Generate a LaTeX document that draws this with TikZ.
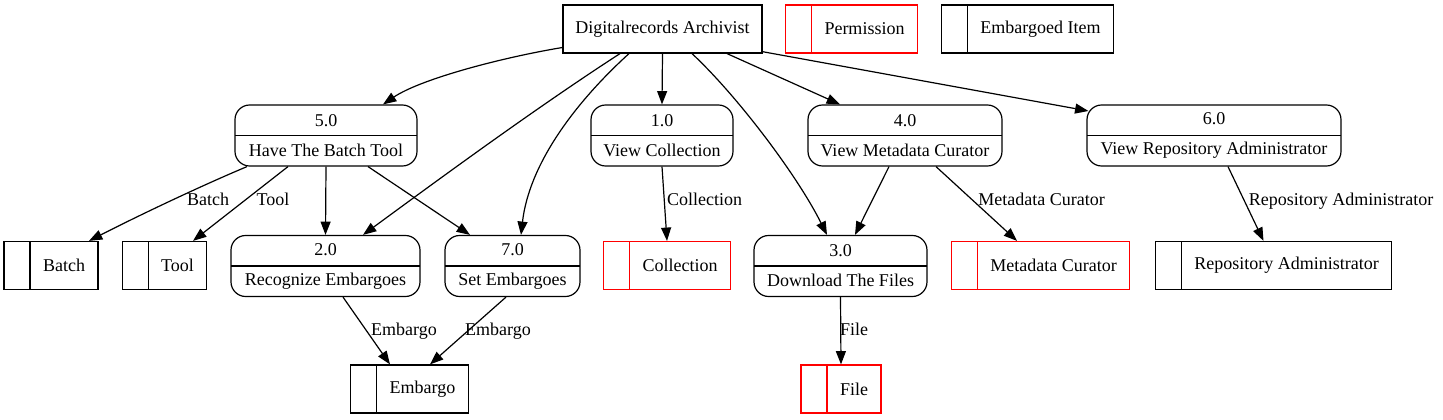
\documentclass[tikz,border=0pt]{standalone}
\usepackage{fontspec}
\setmainfont{Liberation Serif}
\usetikzlibrary{arrows.meta, calc}
\definecolor{storered}{RGB}{255,0,0}

\begin{document}
\begin{tikzpicture}[x=0.75pt, y=-0.75pt]
	\tikzset{
		process/.style={%
			draw,
			line width=0.9pt,
			rounded corners=11pt,
			align=center,
			inner sep=0pt,
			minimum height=45.75pt,
			font=\fontsize{13.5}{22.5}\selectfont,
			path picture={\draw[line width=0.9pt] (path picture bounding box.west) -- (path picture bounding box.east);}},
		store/.style={%
			draw=#1,
			line width=0.9pt,
			inner xsep=9.75pt,
			minimum height=36pt,
			font=\fontsize{13.5}{16}\selectfont,
			execute at begin node={\hspace*{19.5pt}},
			path picture={\draw[draw=#1, line width=0.9pt] ([xshift=19.5pt]path picture bounding box.north west) -- ([xshift=19.5pt]path picture bounding box.south west);}},
		store/.default=black,
		entity/.style={%
			draw,
			line width=0.9pt,
			minimum height=36pt,
			font=\fontsize{13.5}{16}\selectfont}
	}

	\tikzstyle{flow_style} = [draw=black, line width=0.9pt, -{Triangle[length=10pt, width=7.5pt]}]
	\tikzstyle{tag_style} = [font=\fontsize{13.5}{16}\selectfont, inner sep=0pt, text height=9.5pt, text depth=3pt]

	\useasboundingbox (0,0) rectangle (1443,420);

	% top row
	\node[entity, minimum width=149.25pt] (arch) at (662.5,29) {Digitalrecords Archivist};
	\node[store=storered] (perm) at (851.5,29) {Permission};
	\node[store] (item) at (1027.5,29) {Embargoed Item};

	% processes
	\node[process, minimum width=136.5pt] (p5) at (326,135.5) {5.0\\Have The Batch Tool};
	\node[process, minimum width=106.5pt] (p1) at (662,135.5) {1.0\\View Collection};
	\node[process, minimum width=145.5pt] (p4) at (905,135.5) {4.0\\View Metadata Curator};
	\node[process, minimum width=190.5pt] (p6) at (1214,135.5) {6.0\\View Repository Administrator};
	\node[process, minimum width=141.75pt] (p2) at (325.5,266) {2.0\\Recognize Embargoes};
	\node[process, minimum width=101.25pt] (p7) at (512.5,266) {7.0\\Set Embargoes};
	\node[process, minimum width=129.75pt] (p3) at (840.5,266) {3.0\\Download The Files};

	% data stores
	\node[store] (batch) at (51,265.5) {Batch};
	\node[store] (tool) at (164.5,265.5) {Tool};
	\node[store=storered] (coll) at (667,265.5) {Collection};
	\node[store=storered] (meta) at (1040.5,265.5) {Metadata Curator};
	\node[store] (repo) at (1273.5,265.5) {Repository Administrator};
	\node[store] (embargo) at (409.5,389) {Embargo};
	\node[store=storered] (file) at (841,389) {File};

	% flows from the archivist
	\draw[flow_style] ($(arch.west)+(0,18.5)$) .. controls +(-63,10.5) and +(37,-25) .. ($(p5.north)+(57,0)$);
	\draw[flow_style] ($(arch.south)+(-42.5,0)$) .. controls +(-85,55) and +(75,-55) .. ($(p2.north)+(37.5,0)$);
	\draw[flow_style] ($(arch.south)+(-33.5,0)$) .. controls +(-55,50) and +(8,-70) .. ($(p7.north)+(8.5,0)$);
	\draw[flow_style] (arch.south) -- (p1.north);
	\draw[flow_style] ($(arch.south)+(29.5,0)$) .. controls +(45,42) and +(-30,-60) .. ($(p3.north)+(-13.5,0)$);
	\draw[flow_style] ($(arch.south)+(64.5,0)$) -- ($(p4.north)+(-65,0)$);
	\draw[flow_style] ($(arch.east)+(0,22.7)$) -- ($(p6.west)+(2,-24.5)$);

	% flows out of the processes
	\draw[flow_style] ($(p5.south)+(-79,0)$) .. controls +(-50,21) and +(45,-23) .. ($(batch.north)+(38,0)$);
	\draw[flow_style] ($(p5.south)+(-38,0)$) -- ($(tool.north)+(28.5,0)$);
	\draw[flow_style] (p5.south) -- (p2.north);
	\draw[flow_style] ($(p5.south)+(42,0)$) -- ($(p7.north)+(-42.5,0)$);
	\draw[flow_style] (p1.south) -- (coll.north);
	\draw[flow_style] ($(p4.south)+(-16,0)$) -- ($(p3.north)+(14.5,0)$);
	\draw[flow_style] ($(p4.south)+(31,0)$) -- ($(meta.north)+(-23.5,0)$);
	\draw[flow_style] ($(p6.south)+(14,0)$) -- ($(repo.north)+(-10,0)$);
	\draw[flow_style] ($(p2.south)+(17.5,0)$) -- ($(embargo.north)+(-19.5,0)$);
	\draw[flow_style] ($(p7.south)+(-6.5,0)$) -- ($(embargo.north)+(20.5,0)$);
	\draw[flow_style] (p3.south) -- (file.north);

	% flow labels
	\node[tag_style] (t_batch) at (208,201.5) {Batch};
	\node[tag_style] (t_tool) at (273,201.5) {Tool};
	\node[tag_style] (t_coll) at (704.5,201.5) {Collection};
	\node[tag_style] (t_meta) at (1041.5,201.5) {Metadata Curator};
	\node[tag_style] (t_repo) at (1341,201.5) {Repository Administrator};
	\node[tag_style] (t_emb_a) at (404,331.5) {Embargo};
	\node[tag_style] (t_emb_b) at (498,331.5) {Embargo};
	\node[tag_style] (t_file) at (854,331.5) {File};

\end{tikzpicture}
\end{document}
